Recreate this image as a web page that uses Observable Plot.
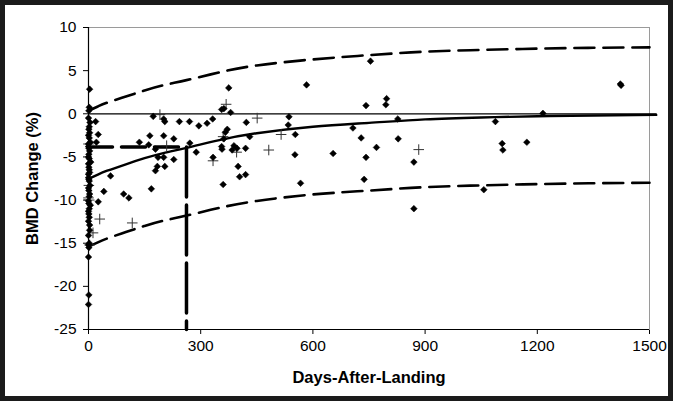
<!DOCTYPE html>
<html>
<head>
<meta charset="utf-8">
<script src="https://cdn.jsdelivr.net/npm/d3@7"></script>
<script src="https://cdn.jsdelivr.net/npm/@observablehq/plot@0.6"></script>
<style>
  html, body { margin: 0; padding: 0; background: #1b1b1b; }
  #frame { width: 673px; height: 401px; box-sizing: border-box; padding: 5px; background: #1b1b1b; }
  #chart { width: 663px; height: 391px; background: #ffffff; }
  #chart svg { display: block; }
</style>
</head>
<body>
<div id="frame"><div id="chart"></div></div>
<script>
// ---- tick labels ----
const xTicks = [0, 300, 600, 900, 1200, 1500];
const yTicks = [10, 5, 0, -5, -10, -15, -20, -25];

// ---- individual measurements: diamonds (days after landing, BMD change %) ----
const diamondDays = [
  3, 2, 1, 4, 1, 3, 2, 5, 0, 3, 1, 2, 6, 1, 3, 0, 2, 4, 1, 3, 0, 5, 2, 1, 0, 3, 0, 2, 1, 0, 1, 0,
  0, 2, 0, 0, 1, 0, 0, 2, 0, 1, 0, 2, 1, 0, 2, 3, 0,
  19, 26, 21, 59, 41, 26, 94, 108, 136, 161, 164, 173, 168, 179, 179, 184, 186, 201, 204, 201, 201, 204,
  228, 228, 243, 270, 271, 288, 295, 317, 332, 356, 362, 375, 380, 371, 366, 362, 356, 357, 360, 333,
  384, 389, 397, 400, 404, 420, 422, 420, 431, 536, 534, 553, 552, 567, 583,
  754, 742, 797, 795, 827, 707, 729, 828, 770, 654, 742, 870, 737, 870, 1057, 1088, 1106, 1108, 1172, 1215, 1422, 1424
];
const diamondVals = [
  2.85, 0.75, 0.35, -1.0, -1.8, -2.2, -2.8, -3.3, -3.8, -4.3, -4.7, -5.2, -5.6, -6.2, -6.8, -7.4, -7.8, -8.3, -8.9, -9.3, -10.1, -10.6, -11.0, -11.6, -12.45, -13.5, -14.1, -15.0, -15.5, -16.6, -21.0, -22.1,
  -0.5, -1.5, -2.5, -3.5, -4.0, -5.0, -5.8, -6.5, -7.0, -7.6, -8.6, -9.6, -10.4, -11.3, -12.0, -12.9, -15.2,
  -0.9, -2.4, -3.3, -7.2, -9.0, -10.2, -9.3, -9.75, -3.3, -3.6, -2.55, -0.3, -8.7, -4.1, -6.6, -6.1, -5.05, -0.6, -0.9, -2.55, -5.05, -6.1,
  -2.9, -5.3, -0.9, -0.9, -3.4, -4.45, -1.4, -1.1, -0.6, 0.5, 0.6, 3.0, 0.15, -1.8, -2.15, -2.9, -3.8, -4.1, -8.2, -5.05,
  -4.2, -3.7, -4.0, -6.1, -7.3, -7.05, -1.0, -4.0, -2.65, -0.35, -1.3, -2.4, -4.75, -8.05, 3.35,
  6.1, 0.95, 1.75, 1.05, -0.6, -1.65, -2.8, -2.9, -3.9, -4.6, -5.05, -5.6, -7.6, -11.0, -8.8, -0.9, -3.45, -4.2, -3.3, 0.05, 3.45, 3.3
];

// ---- individual measurements: plus markers ----
const plusDays = [191, 209, 368, 360, 396, 333, 451, 482, 515, 117, 30, 12, 883, 1, 0, 2, 0, 3];
const plusVals = [-0.1, -3.7, 1.1, -2.65, -4.45, -5.45, -0.5, -4.2, -2.4, -12.65, -12.2, -13.8, -4.15, -8.3, -9.75, -10.0, -3.5, -15.2];

// ---- fitted recovery curve and its bounds ----
const fitDays = [0, 25, 50, 100, 150, 200, 262, 350, 450, 600, 750, 900, 1050, 1200, 1350, 1518];
const fitVals = [-7.55, -7.05, -6.6, -5.85, -5.15, -4.55, -3.95, -3.05, -2.25, -1.5, -1.05, -0.65, -0.43, -0.28, -0.2, -0.13];
const boundDays = [0, 25, 50, 100, 150, 200, 262, 350, 450, 600, 750, 900, 1050, 1200, 1350, 1500];
const upperVals = [0.35, 0.85, 1.3, 2.0, 2.7, 3.3, 3.9, 4.8, 5.6, 6.3, 6.8, 7.2, 7.4, 7.55, 7.65, 7.7];
const lowerVals = [-15.4, -14.9, -14.45, -13.7, -13.0, -12.4, -11.8, -10.9, -10.1, -9.35, -8.9, -8.5, -8.3, -8.15, -8.05, -8.0];

// ---- half-recovery marker (dashed L) ----
const halfHDays = [0, 262];
const halfHVals = [-3.85, -3.85];
const halfVDays = [262, 262];
const halfVVals = [-3.85, -25];

// ---- zero reference line ----
const zeroDays = [0, 1518];
const zeroVals = [0, 0];

const pairs = (xs, ys) => xs.map((d, i) => ({d, v: ys[i]}));
const diamonds = pairs(diamondDays, diamondVals);
const pluses = pairs(plusDays, plusVals);
const fit = pairs(fitDays, fitVals);
const upper = pairs(boundDays, upperVals);
const lower = pairs(boundDays, lowerVals);
const halfH = pairs(halfHDays, halfHVals);
const halfV = pairs(halfVDays, halfVVals);
const zero = pairs(zeroDays, zeroVals);

const chart = Plot.plot({
  width: 663,
  height: 391,
  marginLeft: 83,
  marginRight: 19,
  marginTop: 22,
  marginBottom: 67,
  style: {fontFamily: "'Liberation Sans', Arial, sans-serif", fontSize: "15.5px", background: "white", color: "black", overflow: "visible"},
  x: {domain: [0, 1500], ticks: xTicks, tickSize: 5, tickPadding: 5, label: null, tickFormat: d => String(d)},
  y: {domain: [-25, 10], ticks: yTicks, tickSize: 5, tickPadding: 7, label: null, tickFormat: d => String(d)},
  marks: [
    Plot.frame({stroke: "#9a9a9a"}),
    Plot.line(zero, {x: "d", y: "v", stroke: "black", strokeWidth: 1.2}),
    Plot.line(upper, {x: "d", y: "v", stroke: "black", strokeWidth: 2.6, strokeDasharray: "20,9", curve: "natural"}),
    Plot.line(lower, {x: "d", y: "v", stroke: "black", strokeWidth: 2.6, strokeDasharray: "20,9", curve: "natural"}),
    Plot.line(halfH, {x: "d", y: "v", stroke: "black", strokeWidth: 3.5, strokeDasharray: "24,9"}),
    Plot.line(halfV, {x: "d", y: "v", stroke: "black", strokeWidth: 3.5, strokeDasharray: "50,8"}),
    Plot.line(fit, {x: "d", y: "v", stroke: "black", strokeWidth: 2.4, curve: "natural"}),
    Plot.dot(pluses, {x: "d", y: "v", symbol: "plus", r: 3.5, stroke: "#333", strokeWidth: 1}),
    Plot.dot(diamonds, {x: "d", y: "v", symbol: "diamond2", r: 3, fill: "black", stroke: "black", strokeWidth: 0.5}),
    Plot.ruleX([0], {stroke: "black", strokeWidth: 1.2}),
    Plot.ruleY([-25], {stroke: "black", strokeWidth: 1.2}),
    Plot.text(["BMD Change (%)"], {frameAnchor: "left", dx: -56, rotate: -90, textAnchor: "middle", fontWeight: "bold", fontSize: 16.5}),
    Plot.text(["Days-After-Landing"], {frameAnchor: "bottom", dy: 53, textAnchor: "middle", fontWeight: "bold", fontSize: 16.5})
  ]
});
document.getElementById("chart").appendChild(chart);
</script>
</body>
</html>
